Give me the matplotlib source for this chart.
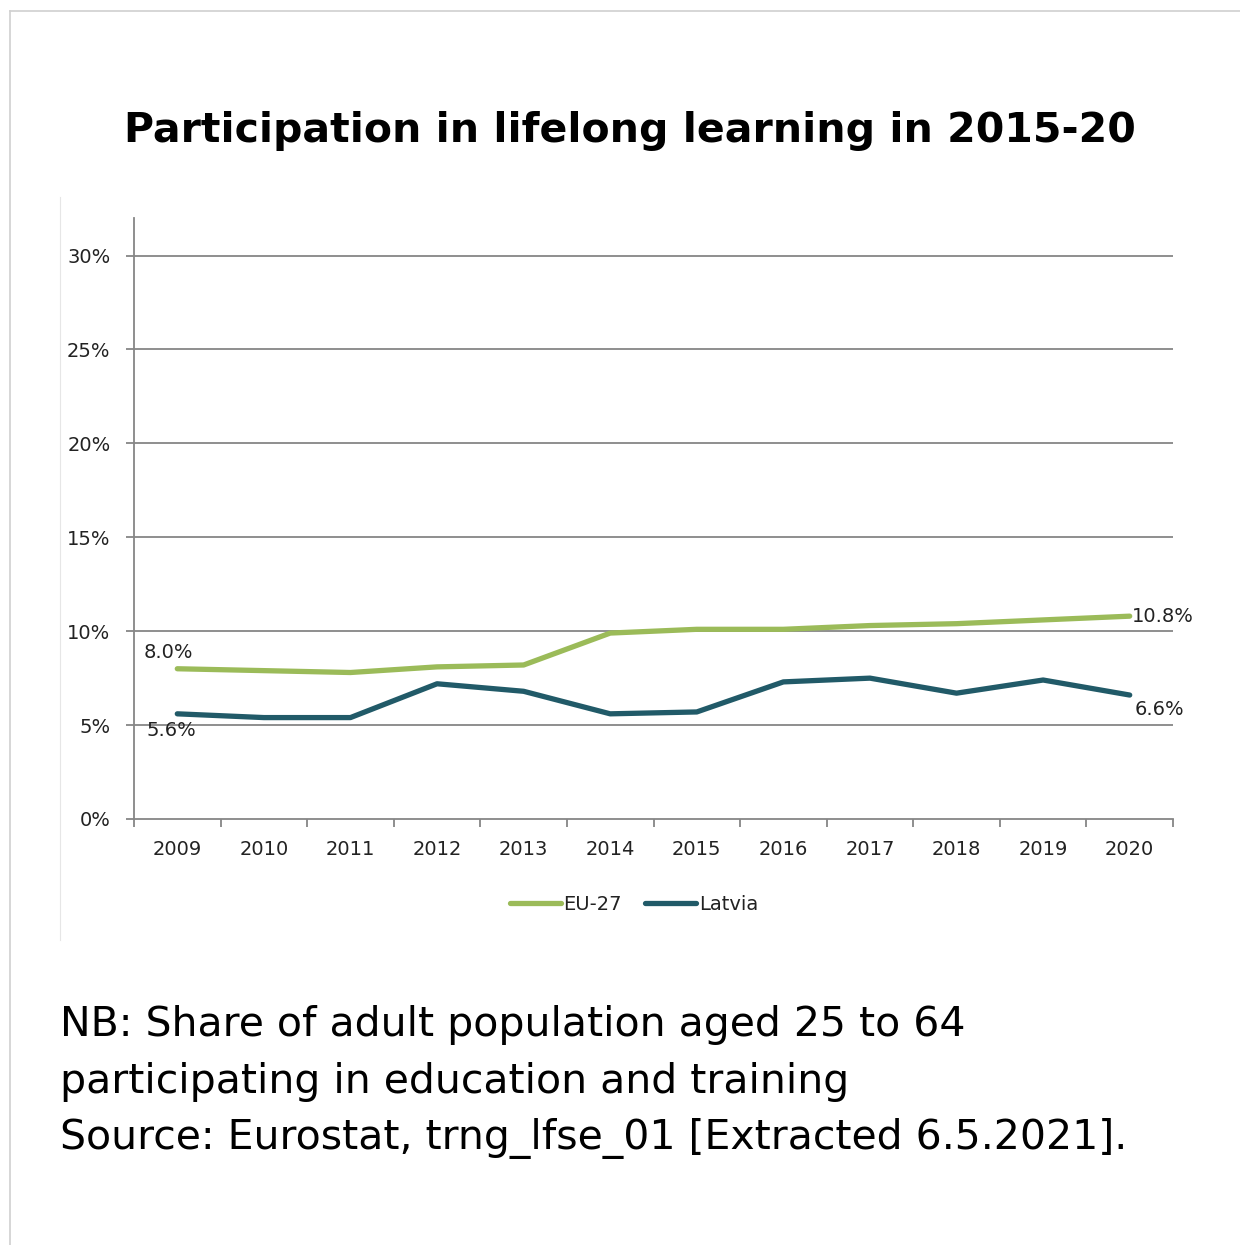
import matplotlib
matplotlib.use("Agg")
import matplotlib.pyplot as plt
from matplotlib.lines import Line2D

## Data
years = ['2009', '2010', '2011', '2012', '2013', '2014',
         '2015', '2016', '2017', '2018', '2019', '2020']
eu27 = [8.0, 7.9, 7.8, 8.1, 8.2, 9.9, 10.1, 10.1, 10.3, 10.4, 10.6, 10.8]
latvia = [5.6, 5.4, 5.4, 7.2, 6.8, 5.6, 5.7, 7.3, 7.5, 6.7, 7.4, 6.6]
yticks = [0, 5, 10, 15, 20, 25, 30]

green = '#9BBB59'
teal = '#215A68'
grey = '#868686'

plt.rcParams['font.family'] = ['DejaVu Sans']

W, H = 1240, 1245
fig = plt.figure(figsize=(W / 100, H / 100), dpi=100)

## Axes placed in pixel terms
left, right, bottom, top = 134, 1173, 819, 218
ax = fig.add_axes([left / W, 1 - bottom / H, (right - left) / W, (bottom - top) / H])

x = range(len(years))
ax.plot(x, eu27, color=green, lw=3.8, label='EU-27', solid_capstyle='round', zorder=3)
ax.plot(x, latvia, color=teal, lw=3.8, label='Latvia', solid_capstyle='round', zorder=3)

ax.set_xlim(-0.5, len(years) - 0.5)
ax.set_ylim(0, 32)
ax.set_yticks(yticks)
ax.set_yticklabels([f'{v}%' for v in yticks])
ax.set_xticks(list(x))
ax.set_xticklabels(years)
ax.set_xticks([i - 0.5 for i in range(len(years) + 1)], minor=True)

ax.tick_params(axis='x', which='major', length=0, pad=15, labelsize=14, colors='#222222')
ax.tick_params(axis='x', which='minor', length=6, width=1.3, color=grey, direction='out')
ax.tick_params(axis='y', length=6, width=1.3, color=grey, pad=11, labelsize=14, labelcolor='#222222')

for v in yticks[1:]:
    ax.axhline(v, color=grey, lw=1.3, zorder=1)
for s in ['top', 'right']:
    ax.spines[s].set_visible(False)
for s in ['left', 'bottom']:
    ax.spines[s].set_color(grey)
    ax.spines[s].set_linewidth(1.3)

## Point labels at both ends
lab = dict(fontsize=14, color='#222222')
ax.annotate(f'{eu27[0]:.1f}%', (0, eu27[0]), xytext=(-34, 7), textcoords='offset pixels', va='bottom', **lab)
ax.annotate(f'{latvia[0]:.1f}%', (0, latvia[0]), xytext=(-31, -7), textcoords='offset pixels', va='top', **lab)
ax.annotate(f'{eu27[-1]:.1f}%', (11, eu27[-1]), xytext=(2, 0), textcoords='offset pixels', va='center', **lab)
ax.annotate(f'{latvia[-1]:.1f}%', (11, latvia[-1]), xytext=(5, -5), textcoords='offset pixels', va='top', **lab)

leg = fig.legend(loc='center', bbox_to_anchor=(634 / W, 1 - 904 / H), ncol=2, frameon=False,
                 fontsize=14, handlelength=2.6, handletextpad=0.15, columnspacing=1.2)
for t in leg.get_texts():
    t.set_color('#222222')

fig.text(630 / W, 1 - 131 / H, 'Participation in lifelong learning in 2015-20',
         ha='center', va='center', fontsize=29.5, fontweight='bold')

fig.text(60 / W, 1 - 1082 / H,
         'NB: Share of adult population aged 25 to 64\n'
         'participating in education and training\n'
         'Source: Eurostat, trng_lfse_01 [Extracted 6.5.2021].',
         ha='left', va='center', fontsize=29.5, linespacing=1.52)

## Frame lines around the panel
fig.add_artist(Line2D([10 / W, 1], [1 - 11 / H, 1 - 11 / H], color='#d0d0d0', lw=1.2))
fig.add_artist(Line2D([10 / W, 10 / W], [0, 1 - 11 / H], color='#d0d0d0', lw=1.2))
fig.add_artist(Line2D([60 / W, 60 / W], [1 - 940 / H, 1 - 197 / H], color='#e6e6e6', lw=0.8))

fig.savefig('out.png', dpi=100)
